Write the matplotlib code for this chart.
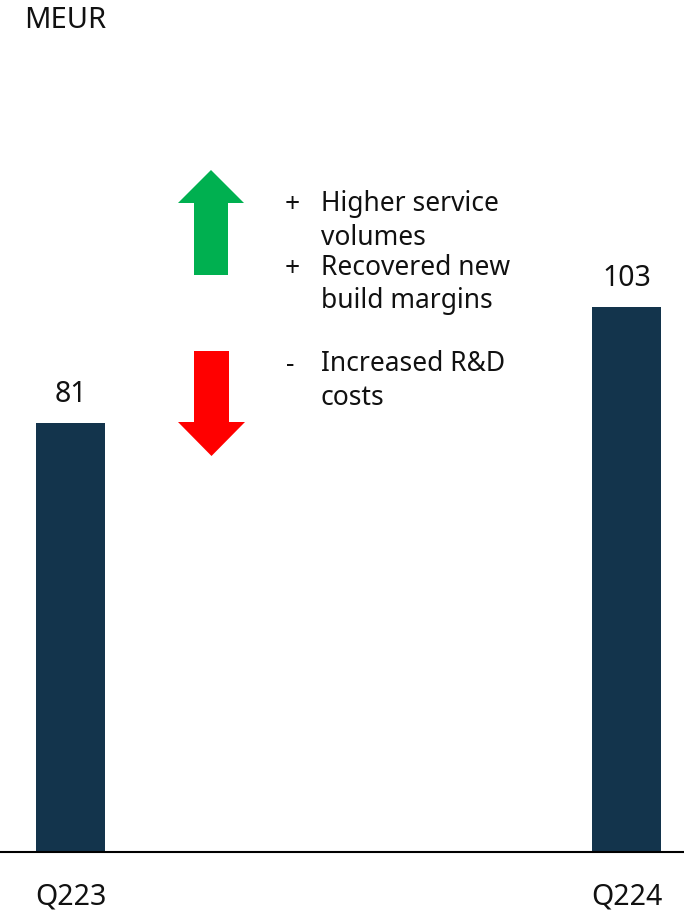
import matplotlib
matplotlib.use("Agg")
import matplotlib.pyplot as plt
from matplotlib.patches import Polygon

plt.rcParams['font.family'] = ['Noto Sans', 'DejaVu Sans']

# Data
categories = ["Q223", "Q224"]
values = [81, 103]
drivers_up = ["Higher service\nvolumes", "Recovered new\nbuild margins"]
drivers_down = ["Increased R&D\ncosts"]

W, H = 684, 910
fig = plt.figure(figsize=(W / 100, H / 100), dpi=100)

# axes covers full width, baseline at y=852 px
ax = fig.add_axes([0, (H - 852) / H, 1, 852 / H])
x = list(range(len(categories)))
ax.bar(x, values, width=69 / 556, color="#13344C")
ax.set_xlim(-70.5 / 556, 1 + (684 - 626.5) / 556)
ax.set_ylim(0, 852 / 5.296)

for xi, v in zip(x, values):
    ax.annotate(str(v), (xi, v), xytext=(0, 15), textcoords="offset points",
                ha="center", va="baseline", fontsize=20.5, color="#111111")

for s in ["top", "left", "right"]:
    ax.spines[s].set_visible(False)
ax.spines["bottom"].set_linewidth(1.5)
ax.set_yticks([])
ax.set_xticks(x)
ax.set_xticklabels(categories, fontsize=20.5, color="#111111")
ax.tick_params(axis="x", length=0, pad=22)


def px(xp, yp):
    return (xp / W, 1 - yp / H)


# up arrow (green)
up = [px(211, 170), px(244, 203), px(228, 203), px(228, 275),
      px(194, 275), px(194, 203), px(178, 203)]
fig.add_artist(Polygon(up, closed=True, transform=fig.transFigure,
                       facecolor="#00B050", edgecolor="none"))
# down arrow (red)
down = [px(194, 351), px(229, 351), px(229, 422), px(245, 422),
        px(211.5, 456), px(178, 422), px(194, 422)]
fig.add_artist(Polygon(down, closed=True, transform=fig.transFigure,
                       facecolor="#FF0000", edgecolor="none"))

fig.text(24 / W, 1 - 20 / H, "MEUR", fontsize=21, va="center", ha="left",
         color="#111111")

txt_kw = dict(fontsize=19, va="center", ha="left", color="#111111",
              linespacing=1.25)
sign_kw = dict(fontsize=19, va="center", ha="left", color="#111111",
               fontweight="bold")
fig.text(285 / W, 1 - 205 / H, "+", **sign_kw)
fig.text(321 / W, 1 - 221 / H, drivers_up[0], **txt_kw)
fig.text(285 / W, 1 - 269 / H, "+", **sign_kw)
fig.text(321 / W, 1 - 284.5 / H, drivers_up[1], **txt_kw)
fig.text(286 / W, 1 - 365 / H, "-", **sign_kw)
fig.text(321 / W, 1 - 381 / H, drivers_down[0], **txt_kw)

fig.savefig("out.png", dpi=100)
